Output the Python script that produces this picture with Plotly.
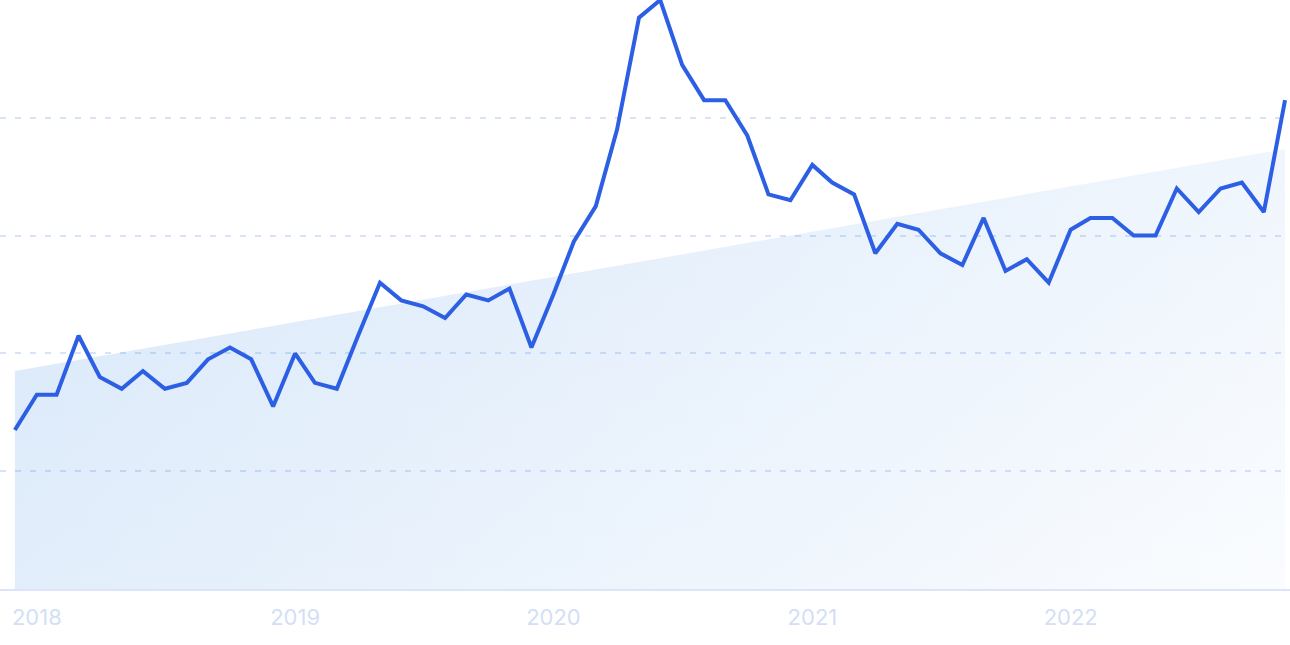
import pandas as pd
import plotly.graph_objects as go

# ---- data ----
months = pd.date_range("2018-01-01", periods=60, freq="MS").strftime("%Y-%m-%d").tolist()
interest = [27, 33, 33, 43, 36, 34, 37, 34, 35, 39, 41, 39,
            31, 40, 35, 34, 43, 52, 49, 48, 46, 50, 49, 51,
            41, 50, 59, 65, 78, 97, 100, 89, 83, 83, 77, 67,
            66, 72, 69, 67, 57, 62, 61, 57, 55, 63, 54, 56,
            52, 61, 63, 63, 60, 60, 68, 64, 68, 69, 64, 83]
trend_x = [months[0], months[-1]]
trend_y = [37.0, 74.7]
tick_vals = ["2018-01-01", "2019-01-01", "2020-01-01", "2021-01-01", "2022-01-01"]
tick_text = ["2018", "2019", "2020", "2021", "2022"]

fig = go.Figure()

# trend area: translucent blue, horizontal fade
fig.add_trace(go.Scatter(
    x=trend_x, y=trend_y, mode="lines", line=dict(width=0),
    fill="tozeroy",
    fillgradient=dict(type="horizontal",
                      colorscale=[[0, "rgba(45,129,225,0.14)"],
                                  [1, "rgba(45,129,225,0.025)"]]),
    hoverinfo="skip", showlegend=False))
# extra tint toward the top (gives a diagonal feel)
fig.add_trace(go.Scatter(
    x=trend_x, y=trend_y, mode="lines", line=dict(width=0),
    fill="tozeroy",
    fillgradient=dict(type="vertical",
                      colorscale=[[0, "rgba(45,129,225,0)"],
                                  [1, "rgba(45,129,225,0.05)"]]),
    hoverinfo="skip", showlegend=False))

# main line
fig.add_trace(go.Scatter(
    x=months, y=interest, mode="lines",
    line=dict(color="#2d5fe4", width=4),
    showlegend=False, cliponaxis=False))

fig.update_layout(
    width=1290, height=645,
    margin=dict(l=0, r=0, t=0, b=56, autoexpand=False),
    paper_bgcolor="white", plot_bgcolor="white",
    font=dict(family="Inter, Roboto, sans-serif"),
)
fig.update_xaxes(
    range=["2017-12-11", "2022-12-08"],
    tickvals=tick_vals, ticktext=tick_text,
    ticklabelshift=22, ticklabelstandoff=8,
    tickfont=dict(size=22, color="#d3dff5"),
    showgrid=False, zeroline=False,
    showline=True, linecolor="#dbe5f7", linewidth=1.5,
    ticks="",
)
fig.update_yaxes(
    range=[0, 100], tickvals=[20, 40, 60, 80],
    showticklabels=False, showgrid=True,
    gridcolor="#d6e4f8", griddash="6px,9px", gridwidth=1.5,
    zeroline=False, showline=False,
)

fig.write_html("out.html",
               config={"displayModeBar": False},
               post_script="document.body.style.margin='0';")
